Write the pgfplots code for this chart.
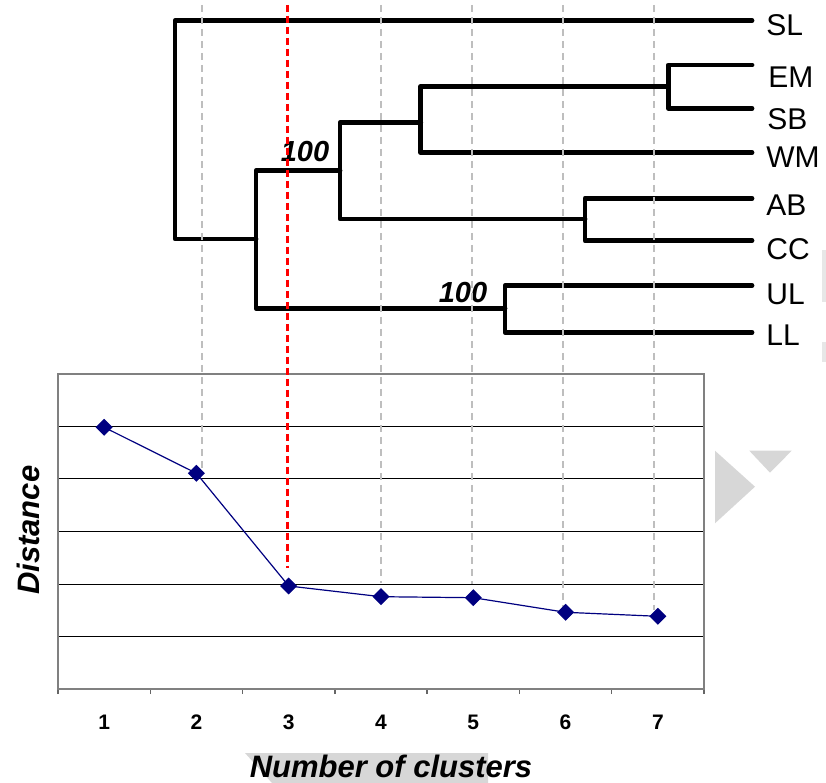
\documentclass[border=0pt]{standalone}
\usepackage{pgfplots}
\pgfplotsset{compat=1.18}
\usepackage{fontspec}
\setmainfont{Liberation Sans}
\definecolor{navy}{RGB}{0,0,128}
\definecolor{cutgray}{RGB}{190,190,190}
\definecolor{shade}{RGB}{215,215,215}

\begin{document}
\begin{tikzpicture}
\path[use as bounding box] (0pt,0pt) rectangle (413pt,391.5pt);

% dendrogram and the grey marks round it, in page pixels
\begin{axis}[at={(0pt,0pt)}, anchor=south west, width=413pt, height=391.5pt,
  scale only axis, xmin=0, xmax=826, ymin=0, ymax=783, y dir=reverse,
  hide axis, clip=false,
  tree/.style={black, line width=2.4pt, line join=round, line cap=round}]
  \addplot[tree] coordinates {(752,20.7)(175,20.7)(175,239)(256,239)};
  \addplot[tree] coordinates {(340,170.7)(256,170.7)(256,308.3)(505,308.3)};
  \addplot[tree] coordinates {(420.7,122.7)(340,122.7)(340,219)(585,219)};
  \addplot[tree] coordinates {(668.3,86.5)(420.7,86.5)(420.7,152.7)(752,152.7)};
  \addplot[tree] coordinates {(752,65)(668.3,65)(668.3,108.3)(752,108.3)};
  \addplot[tree] coordinates {(752,198.3)(585,198.3)(585,240.7)(752,240.7)};
  \addplot[tree] coordinates {(752,285.7)(505,285.7)(505,332.3)(752,332.3)};

  % grey artefacts
  \addplot[draw=none, fill=shade] coordinates {(715,450.7)(715,523.3)(755,486.7)};
  \addplot[draw=none, fill=shade] coordinates {(749.3,450.7)(791.7,450.7)(770,472.7)};
  \addplot[draw=none, fill=shade] coordinates {(245,753)(488,753)(488,783)(272,783)};
  \addplot[draw=none, fill=shade!60] coordinates {(821.5,250)(826,250)(826,302)(821.5,302)};
  \addplot[draw=none, fill=shade!60] coordinates {(821.5,342)(826,342)(826,362)(821.5,362)};

  \begin{scope}[every node/.style={anchor=west, inner sep=0pt, font=\fontsize{15}{18}\selectfont}]
    \node at (axis cs:766,25) {SL};
    \node at (axis cs:768,77.5) {EM};
    \node at (axis cs:767,119) {SB};
    \node at (axis cs:766,157.5) {WM};
    \node at (axis cs:766,205.5) {AB};
    \node at (axis cs:766,249) {CC};
    \node at (axis cs:766,294) {UL};
    \node at (axis cs:766,335) {LL};
  \end{scope}
  \node[inner sep=0pt, font=\bfseries\itshape\fontsize{14.5}{17}\selectfont] at (axis cs:305,151.7) {100};
  \node[inner sep=0pt, font=\bfseries\itshape\fontsize{14.5}{17}\selectfont] at (axis cs:463,293) {100};
\end{axis}

% distance against number of clusters
\begin{axis}[at={(29pt,47pt)}, anchor=south west, width=323pt, height=157.5pt,
  scale only axis, clip=false,
  xmin=0.5, xmax=7.5, ymin=0, ymax=6,
  xtick={1,...,7}, xticklabels={1,2,3,4,5,6,7},
  minor xtick={0.5,1.5,...,7.5},
  ytick={1,...,5}, yticklabels={},
  ymajorgrids, grid style={black, line width=0.5pt},
  major tick length=0pt, minor tick length=2.5pt, tick align=outside,
  xtick pos=bottom, ytick pos=left,
  axis line style={black!50, line width=0.75pt},
  minor tick style={black!60, line width=0.75pt},
  xticklabel style={font=\bfseries\fontsize{10.5}{12}\selectfont, anchor=center, yshift=-16.5pt},
  xlabel={Number of clusters}, ylabel={Distance},
  label style={font=\bfseries\itshape\fontsize{15.5}{18}\selectfont},
  xlabel style={at={(axis description cs:0.5155,0)}, anchor=center, yshift=-38.5pt},
  ylabel style={at={(axis description cs:-0.0464,0.504)}, anchor=center}]
  \addplot[navy, line width=0.6pt, mark=square*, mark size=2.7pt,
    mark options={rotate=45, fill=navy}]
    coordinates {(1,4.985)(2,4.109)(3,1.962)(4,1.758)(5,1.739)(6,1.461)(7,1.385)};

  % cut lines running up through the dendrogram
  \addplot[cutgray, line width=1pt, dash pattern=on 3.5pt off 2.5pt] coordinates {(2.064,13.03)(2.064,4.17)};
  \addplot[cutgray, line width=1pt, dash pattern=on 3.5pt off 2.5pt] coordinates {(3.997,13.03)(3.997,2.02)};
  \addplot[cutgray, line width=1pt, dash pattern=on 3.5pt off 2.5pt] coordinates {(4.989,13.03)(4.989,2.0)};
  \addplot[cutgray, line width=1pt, dash pattern=on 3.5pt off 2.5pt] coordinates {(5.969,13.03)(5.969,1.57)};
  \addplot[cutgray, line width=1pt, dash pattern=on 3.5pt off 2.5pt] coordinates {(6.955,13.03)(6.955,1.50)};
  \addplot[red, line width=1.5pt, dash pattern=on 3.5pt off 2pt] coordinates {(2.989,13.03)(2.989,2.31)};
\end{axis}
\end{tikzpicture}
\end{document}
